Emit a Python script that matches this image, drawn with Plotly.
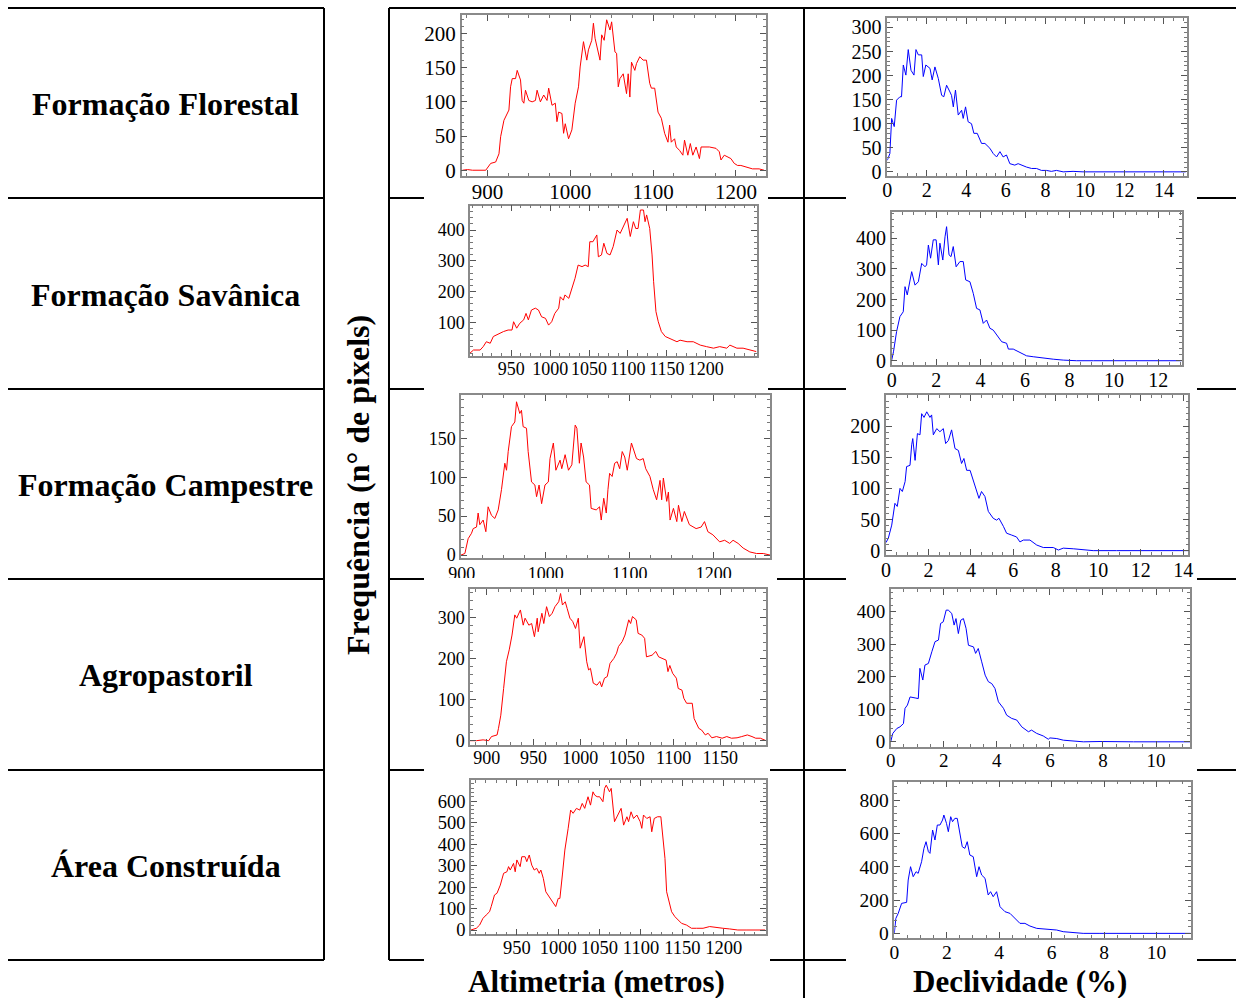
import plotly.graph_objects as go

# ---------------- data ----------------
row_labels = ["Formação Florestal", "Formação Savânica", "Formação Campestre",
              "Agropastoril", "Área Construída"]

florestal_alt_x = [870, 876, 882, 890, 898, 904, 910, 914, 916, 920, 922, 926, 928, 930, 934, 936, 940, 942, 944, 946, 950, 954, 958, 960, 964, 968, 972, 974, 978, 982, 984, 986, 990, 992, 994, 998, 1002, 1006, 1010, 1012, 1016, 1020, 1022, 1026, 1028, 1030, 1036, 1038, 1041, 1044, 1048, 1050, 1054, 1056, 1058, 1060, 1064, 1068, 1070, 1072, 1074, 1078, 1080, 1084, 1088, 1092, 1096, 1098, 1102, 1106, 1110, 1114, 1118, 1120, 1122, 1126, 1128, 1132, 1136, 1138, 1142, 1145, 1148, 1152, 1156, 1158, 1168, 1176, 1180, 1182, 1186, 1190, 1194, 1198, 1202, 1206, 1212, 1220, 1228, 1234]
florestal_alt_y = [0, 1, 0, 0, 0, 10, 12, 24, 49, 73, 78, 88, 122, 134, 134, 146, 132, 102, 98, 117, 102, 100, 102, 117, 100, 110, 102, 120, 95, 98, 71, 85, 83, 54, 68, 46, 59, 98, 122, 151, 188, 161, 176, 190, 215, 193, 161, 198, 190, 220, 205, 217, 173, 171, 122, 134, 141, 112, 141, 107, 158, 146, 156, 166, 161, 161, 127, 120, 120, 85, 76, 54, 41, 66, 41, 46, 34, 29, 22, 44, 22, 39, 22, 34, 17, 34, 34, 32, 27, 15, 22, 20, 17, 10, 7, 7, 5, 2, 2, 0]

florestal_dec_x = [0, 0.13, 0.22, 0.35, 0.47, 0.64, 0.72, 0.81, 0.94, 1.06, 1.2, 1.35, 1.45, 1.57, 1.74, 1.82, 1.95, 2.16, 2.27, 2.41, 2.58, 2.75, 2.86, 3.0, 3.17, 3.25, 3.34, 3.45, 3.59, 3.76, 3.84, 3.96, 4.09, 4.26, 4.38, 4.55, 4.77, 4.94, 5.19, 5.36, 5.53, 5.7, 5.86, 6.03, 6.2, 6.45, 6.62, 6.87, 7.04, 7.3, 7.55, 7.8, 8.05, 8.3, 8.56, 8.9, 9.4, 9.9, 10.75, 12.4, 15.1]
florestal_dec_y = [24, 38, 111, 94, 149, 156, 156, 222, 201, 254, 211, 201, 254, 243, 243, 198, 222, 215, 191, 218, 194, 159, 156, 180, 166, 159, 135, 170, 118, 128, 111, 135, 104, 100, 80, 80, 59, 59, 49, 38, 31, 42, 31, 35, 17, 14, 17, 12, 10, 7, 7, 3, 3, 1, 3, 0, 1, 0, 0, 0, 0]

savanica_alt_x = [897, 901.5, 910, 914, 918, 923, 927, 934, 940, 946, 951, 953, 957, 961, 966, 969, 972, 976, 981, 985, 989, 994, 998, 1002, 1006, 1011, 1013, 1017, 1019, 1024, 1028, 1032, 1036, 1041, 1045, 1049, 1051, 1055, 1060, 1062, 1066, 1069, 1073, 1077, 1081, 1086, 1090, 1094, 1099, 1103, 1107, 1110, 1113, 1116, 1120, 1122, 1124, 1128, 1131, 1133, 1136, 1139, 1143, 1148, 1154, 1163, 1167, 1176, 1184, 1193, 1201, 1210, 1218, 1227, 1231, 1240, 1248, 1257, 1265]
savanica_alt_y = [0, 10, 10, 21, 37, 32, 54, 64, 70, 75, 75, 102, 81, 97, 108, 129, 108, 140, 146, 140, 118, 113, 91, 102, 129, 146, 183, 172, 189, 178, 210, 243, 286, 281, 286, 281, 362, 362, 384, 313, 319, 357, 324, 319, 346, 400, 389, 411, 438, 379, 427, 405, 405, 465, 465, 427, 449, 405, 319, 232, 135, 102, 70, 54, 48, 37, 42, 37, 37, 26, 21, 16, 21, 16, 26, 16, 16, 10, 5]

savanica_dec_x = [0, 0.08, 0.22, 0.37, 0.52, 0.6, 0.7, 0.9, 1.05, 1.2, 1.35, 1.5, 1.57, 1.65, 1.75, 1.87, 2.0, 2.1, 2.17, 2.3, 2.4, 2.47, 2.58, 2.67, 2.77, 2.9, 3.07, 3.22, 3.33, 3.52, 3.67, 3.82, 3.97, 4.12, 4.27, 4.42, 4.57, 4.72, 4.95, 5.17, 5.25, 5.47, 5.7, 6.07, 6.37, 6.82, 7.27, 7.72, 8.32, 9.07, 10.12, 10.87, 13.05]
savanica_dec_y = [2, 29, 95, 144, 160, 242, 215, 291, 247, 258, 318, 307, 313, 378, 335, 395, 395, 313, 384, 329, 405, 438, 346, 340, 373, 307, 324, 324, 264, 258, 220, 171, 166, 122, 133, 106, 100, 84, 62, 57, 38, 38, 29, 16, 13, 8, 5, 2, 0, 0, 0, 0, 0]

campestre_alt_x = [899, 903.6, 907.5, 911.5, 913.5, 917.5, 919.4, 921.4, 925.4, 928.6, 931.3, 935.3, 939.3, 943.3, 947.2, 951.2, 953.2, 955.2, 959.1, 963.1, 965.1, 969, 971, 973, 977, 979, 983, 987, 989, 992, 995, 999, 1003, 1005, 1009, 1012, 1017, 1019, 1023, 1027, 1031, 1035, 1037, 1040, 1042, 1045, 1048, 1052, 1054, 1060, 1064, 1066, 1069, 1072, 1074, 1076, 1079, 1082, 1085, 1088, 1091, 1094, 1097, 1100, 1102, 1108, 1112, 1116, 1119, 1124, 1128, 1132, 1136, 1138, 1140, 1144, 1146, 1148, 1152, 1156, 1158, 1162, 1165, 1171, 1179, 1185, 1189, 1193, 1199, 1207, 1213, 1219, 1223, 1229, 1235, 1243, 1251, 1259, 1267]
campestre_alt_y = [0, 2, 21, 28, 34, 36, 54, 39, 45, 30, 62, 51, 47, 58, 84, 118, 109, 133, 165, 171, 197, 182, 186, 165, 163, 133, 94, 90, 75, 90, 66, 90, 94, 124, 144, 109, 122, 111, 129, 109, 116, 167, 163, 118, 144, 126, 94, 90, 60, 58, 62, 45, 73, 54, 84, 105, 101, 118, 120, 111, 133, 126, 109, 133, 144, 124, 122, 124, 111, 101, 84, 71, 96, 71, 99, 69, 81, 45, 60, 43, 64, 43, 56, 39, 34, 36, 43, 30, 26, 17, 19, 15, 19, 15, 9, 4, 2, 2, 0]

campestre_dec_x = [0, 0.11, 0.27, 0.42, 0.53, 0.66, 0.77, 0.9, 0.97, 1.13, 1.21, 1.26, 1.37, 1.48, 1.6, 1.68, 1.79, 1.92, 2.07, 2.15, 2.23, 2.39, 2.54, 2.7, 2.81, 2.94, 3.09, 3.25, 3.41, 3.56, 3.67, 3.8, 3.96, 4.11, 4.27, 4.38, 4.5, 4.66, 4.82, 5.05, 5.21, 5.32, 5.53, 5.68, 5.92, 6.15, 6.31, 6.47, 6.78, 7.1, 7.41, 7.88, 8.12, 8.35, 8.82, 9.29, 9.76, 10.86, 12.43, 14.24]
campestre_dec_y = [13, 20, 41, 76, 71, 100, 95, 111, 135, 137, 170, 180, 145, 188, 186, 220, 214, 223, 214, 218, 186, 196, 191, 196, 172, 177, 194, 164, 161, 140, 148, 129, 129, 113, 92, 84, 95, 87, 63, 52, 49, 52, 39, 28, 25, 22, 14, 17, 17, 9, 5, 5, 1, 4, 3, 2, 0, 0, 0, 0]

agro_alt_x = [882, 889, 896, 902, 905, 911, 912.5, 915, 918, 921, 924, 927, 930, 932, 936, 939, 941, 945, 948, 951, 954, 955, 959, 961, 964, 967, 970, 973, 977, 979, 981, 984, 986, 989, 992, 995, 998, 1000, 1004, 1007, 1009, 1011, 1014, 1018, 1021, 1023, 1026, 1029, 1032, 1036, 1039, 1041, 1045, 1048, 1052, 1054, 1056, 1060, 1062, 1066, 1069, 1071, 1077, 1081, 1084, 1088, 1092, 1094, 1096, 1099, 1103, 1105, 1109, 1111, 1114, 1120, 1122, 1127, 1130, 1134, 1137, 1141, 1146, 1152, 1157, 1162, 1168, 1173, 1179, 1184, 1188, 1193, 1199]
agro_alt_y = [0, 0, 2, 0, 10, 14, 30, 62, 127, 192, 221, 257, 306, 298, 318, 281, 298, 281, 285, 253, 298, 265, 310, 285, 326, 302, 310, 326, 338, 358, 330, 338, 322, 298, 290, 273, 298, 225, 253, 192, 172, 176, 140, 135, 144, 131, 152, 156, 188, 200, 213, 229, 241, 257, 294, 285, 302, 294, 261, 257, 249, 204, 208, 217, 204, 200, 196, 168, 183, 164, 152, 127, 123, 103, 91, 91, 54, 30, 26, 14, 18, 7, 10, 6, 10, 6, 7, 10, 14, 10, 6, 6, 0]

agro_dec_x = [0, 0.08, 0.23, 0.35, 0.48, 0.54, 0.63, 0.73, 0.92, 1.04, 1.1, 1.21, 1.29, 1.42, 1.55, 1.67, 1.8, 1.88, 1.98, 2.09, 2.17, 2.3, 2.39, 2.46, 2.55, 2.64, 2.74, 2.84, 2.93, 3.12, 3.2, 3.3, 3.43, 3.56, 3.68, 3.81, 3.93, 4.06, 4.25, 4.37, 4.56, 4.75, 4.94, 5.19, 5.31, 5.5, 5.75, 5.94, 6.0, 6.26, 6.51, 6.88, 7.26, 7.89, 8.52, 9.15, 11.28]
agro_dec_y = [0, 26, 41, 46, 56, 103, 113, 138, 135, 133, 226, 190, 236, 241, 277, 308, 313, 364, 369, 405, 405, 395, 359, 379, 333, 374, 379, 349, 297, 292, 272, 287, 246, 205, 185, 179, 164, 123, 103, 82, 72, 67, 46, 31, 36, 26, 18, 8, 12, 10, 5, 3, 0, 1, 0, 0, 0]

construida_alt_x = [894.5, 901, 905, 909, 913, 917, 919, 923, 926, 930, 934, 938, 940, 942, 946, 948, 950, 954, 956, 960, 962, 965, 968, 971, 974, 977, 979, 982, 985, 990, 994, 997, 1000, 1002, 1005, 1008, 1012, 1015, 1018, 1022, 1026, 1029, 1032, 1036, 1039, 1042, 1044, 1047, 1050, 1054, 1056, 1058, 1062, 1064, 1068, 1072, 1076, 1079, 1083, 1085, 1088, 1091, 1095, 1099, 1101, 1103, 1107, 1111, 1113, 1116, 1120, 1124, 1127, 1129, 1131, 1133, 1137, 1141, 1145, 1149, 1155, 1161, 1167, 1175, 1183, 1191, 1199, 1207, 1217, 1227, 1239, 1250]
construida_alt_y = [0, 8, 23, 54, 70, 85, 109, 163, 171, 209, 264, 271, 295, 279, 310, 271, 326, 295, 341, 341, 318, 349, 302, 279, 287, 264, 279, 240, 178, 147, 124, 109, 147, 147, 256, 372, 473, 558, 543, 566, 558, 589, 566, 620, 581, 643, 628, 620, 620, 597, 659, 674, 643, 659, 504, 535, 566, 488, 527, 504, 550, 519, 535, 504, 473, 535, 519, 527, 457, 519, 527, 527, 395, 333, 178, 147, 85, 62, 47, 31, 23, 8, 8, 8, 16, 11, 8, 5, 0, 0, 0, 0]

construida_dec_x = [0, 0.06, 0.15, 0.28, 0.47, 0.53, 0.62, 0.72, 0.83, 0.91, 1.04, 1.13, 1.21, 1.3, 1.36, 1.46, 1.55, 1.64, 1.74, 1.84, 1.89, 1.99, 2.06, 2.15, 2.22, 2.31, 2.4, 2.5, 2.59, 2.69, 2.78, 2.88, 3.01, 3.14, 3.23, 3.33, 3.46, 3.58, 3.67, 3.77, 3.9, 4.03, 4.22, 4.41, 4.6, 4.79, 4.98, 5.17, 5.43, 5.81, 6.19, 6.44, 6.82, 7.2, 7.84, 9.1, 11.3]
construida_dec_y = [0, 90, 120, 180, 186, 320, 400, 340, 370, 360, 430, 510, 550, 490, 480, 620, 560, 650, 650, 680, 710, 660, 610, 700, 670, 690, 690, 610, 520, 510, 550, 470, 460, 340, 400, 350, 330, 230, 250, 220, 250, 160, 130, 120, 90, 60, 60, 44, 30, 24, 20, 10, 6, 0, 0, 0, 0]

alt_x_series = [florestal_alt_x, savanica_alt_x, campestre_alt_x, agro_alt_x, construida_alt_x]
alt_y_series = [florestal_alt_y, savanica_alt_y, campestre_alt_y, agro_alt_y, construida_alt_y]
dec_x_series = [florestal_dec_x, savanica_dec_x, campestre_dec_x, agro_dec_x, construida_dec_x]
dec_y_series = [florestal_dec_y, savanica_dec_y, campestre_dec_y, agro_dec_y, construida_dec_y]

# axis ranges and ticks
alt_x_ranges = [[869, 1236], [897, 1265.5], [899, 1267], [882, 1199], [894.6, 1250.7]]
alt_y_ranges = [[-8, 227], [-9.4, 479], [-3.4, 205.7], [-10.5, 369], [-20, 698]]
dec_x_ranges = [[0, 15.15], [0, 13.05], [0, 14.24], [0, 11.28], [0, 11.3]]
dec_y_ranges = [[-8, 319], [-14, 485], [-7, 250], [-15, 470], [-26, 910]]

alt_x_ticks = [[900, 1000, 1100, 1200], [950, 1000, 1050, 1100, 1150, 1200],
               [900, 1000, 1100, 1200], [900, 950, 1000, 1050, 1100, 1150],
               [950, 1000, 1050, 1100, 1150, 1200]]
alt_y_ticks = [[0, 50, 100, 150, 200], [100, 200, 300, 400], [0, 50, 100, 150],
               [0, 100, 200, 300], [0, 100, 200, 300, 400, 500, 600]]
dec_x_ticks = [[0, 2, 4, 6, 8, 10, 12, 14], [0, 2, 4, 6, 8, 10, 12],
               [0, 2, 4, 6, 8, 10, 12, 14], [0, 2, 4, 6, 8, 10], [0, 2, 4, 6, 8, 10]]
dec_y_ticks = [[0, 50, 100, 150, 200, 250, 300], [0, 100, 200, 300, 400],
               [0, 50, 100, 150, 200], [0, 100, 200, 300, 400], [0, 200, 400, 600, 800]]

# ---------------- layout geometry (pixels) ----------------
W, H = 1236, 998
alt_frames = [(461.7, 765.7, 15, 175.7), (470, 756.7, 205.7, 356), (461, 770, 395, 557.7),
              (470, 766, 589, 745), (471, 765.7, 780, 934.3)]
dec_frames = [(887.3, 1186.7, 18.3, 175.7), (891.7, 1181.7, 212.3, 365), (886, 1188.3, 395, 555),
              (890.7, 1190, 589, 746.7), (894.3, 1190.7, 781.7, 937.7)]
alt_font_sizes = [21, 18, 18, 18, 18.5]
dec_font_sizes = [20, 20, 20, 19, 19.5]
alt_x_standoff = [-4, -4, -1, -4, -4]
row_centers = [104, 295, 485, 675, 866]
row_lines = [8, 198, 389, 579, 770, 960]
left_gap_end = [768, 768, 777, 770, 770]

def px(x):
    return x / W

def py(y):
    return 1 - y / H

FONT = "Liberation Serif, Times New Roman, serif"
fig = go.Figure()
layout = dict(template="none", width=W, height=H, autosize=False,
              margin=dict(l=0, r=0, t=0, b=0, pad=0),
              paper_bgcolor="white", plot_bgcolor="white", showlegend=False)

def axis_style(rng, ticks, dom, anchor, minor_div, fsize, standoff):
    step = ticks[1] - ticks[0]
    return dict(range=rng, domain=dom, anchor=anchor, tickvals=ticks, automargin=False,
                showgrid=False, zeroline=False, showline=True, linecolor="#8a8a8a",
                linewidth=1.5, mirror="ticks", ticks="inside", ticklen=6,
                tickwidth=1, tickcolor="#555555", tickangle=0,
                ticklabelstandoff=standoff,
                minor=dict(ticks="inside", ticklen=3, tickcolor="#777777",
                           dtick=step / minor_div, tick0=ticks[0], showgrid=False),
                tickfont=dict(family=FONT, size=fsize, color="black"))

idx = 1
for r in range(5):
    for col in range(2):
        if col == 0:
            xs, ys, color = alt_x_series[r], alt_y_series[r], "#ff0000"
            xr, yr, xt, yt, fr = alt_x_ranges[r], alt_y_ranges[r], alt_x_ticks[r], alt_y_ticks[r], alt_frames[r]
            fs = alt_font_sizes[r]
            so = alt_x_standoff[r]
        else:
            xs, ys, color = dec_x_series[r], dec_y_series[r], "#0000ff"
            xr, yr, xt, yt, fr = dec_x_ranges[r], dec_y_ranges[r], dec_x_ticks[r], dec_y_ticks[r], dec_frames[r]
            fs = dec_font_sizes[r]
            so = -4
        sfx = "" if idx == 1 else str(idx)
        fig.add_trace(go.Scatter(x=xs, y=ys, mode="lines", line=dict(color=color, width=1),
                                 xaxis="x" + sfx, yaxis="y" + sfx, hoverinfo="skip"))
        l, rr, t, b = fr
        layout["xaxis" + sfx] = axis_style(xr, xt, [px(l), px(rr)], "y" + sfx, 4, fs, so)
        layout["yaxis" + sfx] = axis_style(yr, yt, [py(b), py(t)], "x" + sfx, 5, fs, 0)
        idx += 1

shapes = []

# the third altimetry image is cropped: its tick labels are cut at the bottom
shapes.append(dict(type="rect", xref="paper", yref="paper", layer="above",
                   x0=px(424), x1=px(777), y0=py(587), y1=py(578),
                   fillcolor="white", line=dict(width=0)))

def seg(x0, y0, x1, y1):
    shapes.append(dict(type="line", xref="paper", yref="paper", layer="above",
                       x0=px(x0), y0=py(y0), x1=px(x1), y1=py(y1),
                       line=dict(color="black", width=2)))

for y in row_lines:
    seg(8, y, 324, y)
seg(324, 8, 324, 960)
seg(389, 8, 389, 960)
seg(804, 8, 804, 998)
seg(389, 8, 1236, 8)
for y, ge in zip(row_lines[1:], left_gap_end):
    seg(389, y, 424, y)
    seg(ge, y, 804, y)
    seg(804, y, 846, y)
    seg(1197, y, 1236, y)

annotations = []
for lab, cy in zip(row_labels, row_centers):
    annotations.append(dict(text="<b>%s</b>" % lab, x=px(166), y=py(cy), xref="paper", yref="paper",
                            showarrow=False, xanchor="center", yanchor="middle",
                            font=dict(family=FONT, size=32, color="black")))
annotations.append(dict(text="<b>Frequência (n° de pixels)</b>", x=px(358), y=py(485),
                        xref="paper", yref="paper", showarrow=False, textangle=-90,
                        xanchor="center", yanchor="middle",
                        font=dict(family=FONT, size=32, color="black")))
annotations.append(dict(text="<b>Altimetria (metros)</b>", x=px(596), y=py(981),
                        xref="paper", yref="paper", showarrow=False,
                        xanchor="center", yanchor="middle",
                        font=dict(family=FONT, size=31, color="black")))
annotations.append(dict(text="<b>Declividade (%)</b>", x=px(1020), y=py(981),
                        xref="paper", yref="paper", showarrow=False,
                        xanchor="center", yanchor="middle",
                        font=dict(family=FONT, size=31, color="black")))

layout["shapes"] = shapes
layout["annotations"] = annotations
fig.update_layout(**layout)
fig.write_html("out.html")
